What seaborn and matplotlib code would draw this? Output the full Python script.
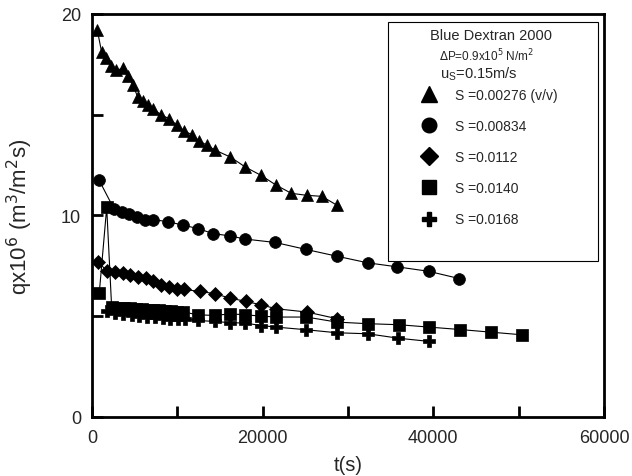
import numpy as np
import pandas as pd
import seaborn as sns
import matplotlib.pyplot as plt
from matplotlib.lines import Line2D
from matplotlib.patches import Rectangle

# S = 0.00276 (triangles)
t_tri = [620, 1130, 1640, 2220, 2810, 3590, 4170, 4760, 5340, 5930, 6510, 7170, 8070,
         9040, 9910, 10800, 11730, 12550, 13420, 14390, 16220, 17980, 19770, 21600,
         23360, 25180, 26940, 28740]
q_tri = [19.2, 18.1, 17.8, 17.4, 17.2, 17.3, 16.9, 16.5, 15.9, 15.7, 15.5, 15.3, 15.0,
         14.8, 14.5, 14.2, 14.0, 13.7, 13.5, 13.25, 12.9, 12.4, 12.0, 11.5,
         11.1, 11.0, 10.95, 10.5]
# S = 0.00834 (circles)
t_cir = [820, 2610, 3470, 4370, 5300, 6200, 7100, 8930, 10680, 12430, 14190, 16140,
         17950, 21490, 25030, 28690, 32320, 35790, 39450, 43040]
q_cir = [11.76, 10.3, 10.18, 10.05, 9.93, 9.8, 9.8, 9.69, 9.52, 9.35, 9.1, 8.99,
         8.83, 8.66, 8.32, 7.98, 7.65, 7.45, 7.23, 6.87]
# S = 0.0112 (diamonds)
t_dia = [740, 1720, 2690, 3590, 4440, 5340, 6320, 7170, 8070, 9010, 9910, 10800,
         12630, 14390, 16140, 18010, 19770, 21600, 25180, 28690]
q_dia = [7.70, 7.25, 7.2, 7.15, 7.06, 6.95, 6.92, 6.73, 6.57, 6.45, 6.37, 6.33,
         6.23, 6.12, 5.9, 5.74, 5.57, 5.37, 5.21, 4.88]
# S = 0.0140 (squares)
t_sq = [850, 1720, 2300, 3000, 3700, 4400, 5100, 5800, 6500, 7200, 7900, 8600, 9300,
        10000, 10700, 12430, 14390, 16220, 17980, 19770, 21600, 25110, 28690, 32320,
        35940, 39530, 43160, 46750, 50370]
q_sq = [6.15, 10.4, 5.45, 5.43, 5.41, 5.39, 5.37, 5.35, 5.33, 5.31, 5.29, 5.27, 5.25,
        5.23, 5.21, 5.07, 5.04, 5.12, 5.07, 5.01, 4.96, 4.96, 4.71, 4.63,
        4.58, 4.46, 4.34, 4.21, 4.08]
# S = 0.0168 (crosses)
t_cr = [1800, 2690, 3660, 4640, 5530, 6400, 7370, 8270, 9120, 10020, 10880, 12430,
        14390, 16220, 17980, 19770, 21600, 25110, 28690, 32320, 35900, 39530]
q_cr = [5.25, 5.15, 5.1, 5.06, 5.02, 4.98, 4.94, 4.9, 4.87, 4.85, 4.86, 4.79,
        4.74, 4.68, 4.66, 4.54, 4.46, 4.33, 4.18, 4.13, 3.91, 3.75]

labels = ["S =0.00276 (v/v)", "S =0.00834", "S =0.0112", "S =0.0140", "S =0.0168"]
series = [(t_tri, q_tri), (t_cir, q_cir), (t_dia, q_dia), (t_sq, q_sq), (t_cr, q_cr)]
marks = ["^", "o", "D", "s", "P"]
msizes = [9, 8.5, 7, 8.5, 8.5]

frames = []
for lab, (t, q) in zip(labels, series):
    frames.append(pd.DataFrame({"t": t, "q": q, "S": lab}))
df = pd.concat(frames, ignore_index=True)

sns.set_style("ticks")
plt.rcParams["font.family"] = ["Liberation Sans", "DejaVu Sans"]

fig = plt.figure(figsize=(6.32, 4.77), dpi=100)
ax = fig.add_axes([0.1456, 0.1237, 0.8101, 0.8449])

for lab, m, ms in zip(labels, marks, msizes):
    sub = df[df["S"] == lab]
    sns.lineplot(data=sub, x="t", y="q", ax=ax, color="black", lw=0.8,
                 marker=m, markersize=ms, markeredgecolor="black",
                 markeredgewidth=0.5, sort=False, estimator=None, legend=False)

ax.set_xlim(0, 60000)
ax.set_ylim(0, 20)
ax.set_xticks([0, 20000, 40000, 60000])
ax.set_xticks([10000, 30000, 50000], minor=True)
ax.set_yticks([0, 10, 20])
ax.set_yticks([5, 15], minor=True)
ax.tick_params(axis="both", which="both", direction="in", labelsize=13,
               color="black", width=2, top=False, right=False)
ax.tick_params(axis="x", pad=9)
ax.tick_params(axis="y", pad=8)
ax.tick_params(which="major", length=8)
ax.tick_params(which="minor", length=8)
for sp in ax.spines.values():
    sp.set_linewidth(2)
    sp.set_color("black")

ax.set_xlabel("t(s)", fontsize=14.5, labelpad=6)
ax.set_ylabel(r"qx10$^6$ (m$^3$/m$^2$s)", fontsize=16)
ax.yaxis.set_label_coords(-0.112, 0.5)

# legend box
ax.add_patch(Rectangle((0.578, 0.386), 0.41, 0.595, transform=ax.transAxes,
                       fill=False, lw=0.8, edgecolor="black"))
ax.text(0.78, 0.948, "Blue Dextran 2000", transform=ax.transAxes, ha="center",
        va="center", fontsize=10.5)
ax.text(0.77, 0.897, r"$\Delta$P=0.9x10$^5$ N/m$^2$", transform=ax.transAxes,
        ha="center", va="center", fontsize=8.5)
ax.text(0.68, 0.853, r"u$_\mathregular{S}$=0.15m/s", transform=ax.transAxes,
        ha="left", va="center", fontsize=10.5)

handles = [Line2D([], [], ls="none", marker=m, color="black", markersize=ms + 2)
           for m, ms in zip(marks, msizes)]
leg = ax.legend(handles, labels, loc="upper left", bbox_to_anchor=(0.62, 0.83),
                frameon=False, fontsize=10, handletextpad=0.9, labelspacing=1.23,
                borderaxespad=0)

fig.savefig("out.png", dpi=100)
